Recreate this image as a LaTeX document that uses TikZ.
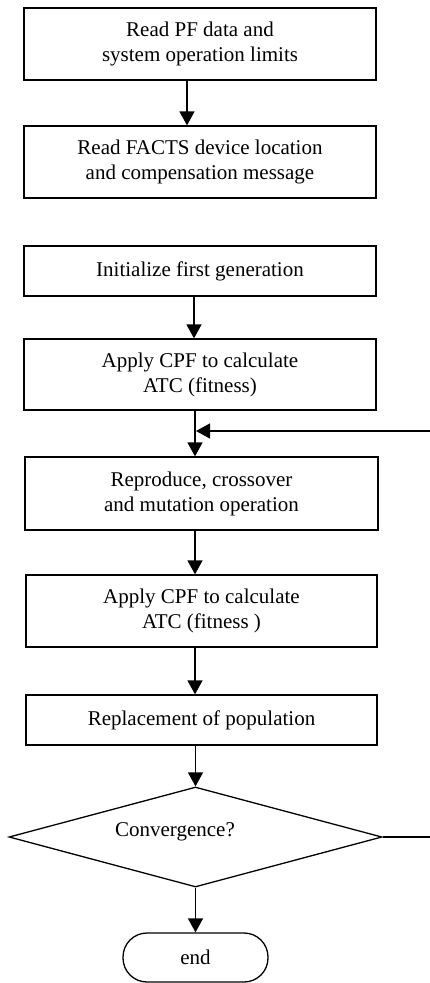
\documentclass[tikz,border=0pt]{standalone}
\usepackage{fontspec}
\setmainfont{Liberation Serif}
\usetikzlibrary{shapes.geometric,arrows.meta}
\begin{document}
\begin{tikzpicture}[x=1pt,y=-1pt,
  box/.style={draw=black,line width=1.3pt,rectangle,inner sep=0pt,align=center,
    font=\fontsize{21}{25}\selectfont},
  arr/.style={line width=1.5pt,-{Triangle[width=15pt,length=14pt]}},
  plain/.style={line width=1.5pt}]
\useasboundingbox[fill=white] (0,0) rectangle (430,983);
\node[box,minimum width=352pt,minimum height=72pt] (b1) at (200,44) {Read PF data and\\system operation limits};
\node[box,minimum width=352pt,minimum height=72pt] (b2) at (200,162) {Read FACTS device location\\and compensation message};
\node[box,minimum width=352pt,minimum height=50pt] (b3) at (200,271) {Initialize first generation};
\node[box,minimum width=352pt,minimum height=71pt] (b4) at (200,374.5) {Apply CPF to calculate\\ATC (fitness)};
\node[box,minimum width=353pt,minimum height=73pt] (b5) at (201.5,493.5) {Reproduce, crossover\\and mutation operation};
\node[box,minimum width=351pt,minimum height=72pt] (b6) at (201.5,611) {Apply CPF to calculate\\ATC (fitness )};
\node[box,minimum width=351pt,minimum height=50pt] (b7) at (201.5,720) {Replacement of population};
\node[draw=black,line width=1.3pt,diamond,inner sep=0pt,minimum width=373pt,minimum height=100pt] (dia) at (195.5,837) {};
\node[font=\fontsize{21}{25}\selectfont] (dtxt) at (175,832) {Convergence?};
\node[box,rounded corners=24pt,minimum width=145pt,minimum height=49pt] (endn) at (195.5,957.5) {end};
% connectors
\draw[arr] ([xshift=-13pt]b1.south) -- ([xshift=-13pt]b2.north);
\draw[arr] ([xshift=-6pt]b3.south) -- ([xshift=-6pt]b3.south |- b4.north);
\draw[arr] ([xshift=-5pt]b4.south) -- ([xshift=-5pt]b4.south |- b5.north);
\coordinate (j) at (196,431);
\coordinate (fbR) at (430,431);
\draw[arr] (fbR) -- (j);
\draw[arr] ([xshift=-6.5pt]b5.south) -- ([xshift=-6.5pt]b5.south |- b6.north);
\draw[arr] ([xshift=-6.5pt]b6.south) -- ([xshift=-6.5pt]b6.south |- b7.north);
\draw[arr] ([xshift=-6pt]b7.south) -- (dia.north);
\draw[arr] (dia.south) -- (dia.south |- endn.north);
\coordinate (dR) at (430,837);
\draw[plain] (dia.east) -- (dR);
\end{tikzpicture}
\end{document}
